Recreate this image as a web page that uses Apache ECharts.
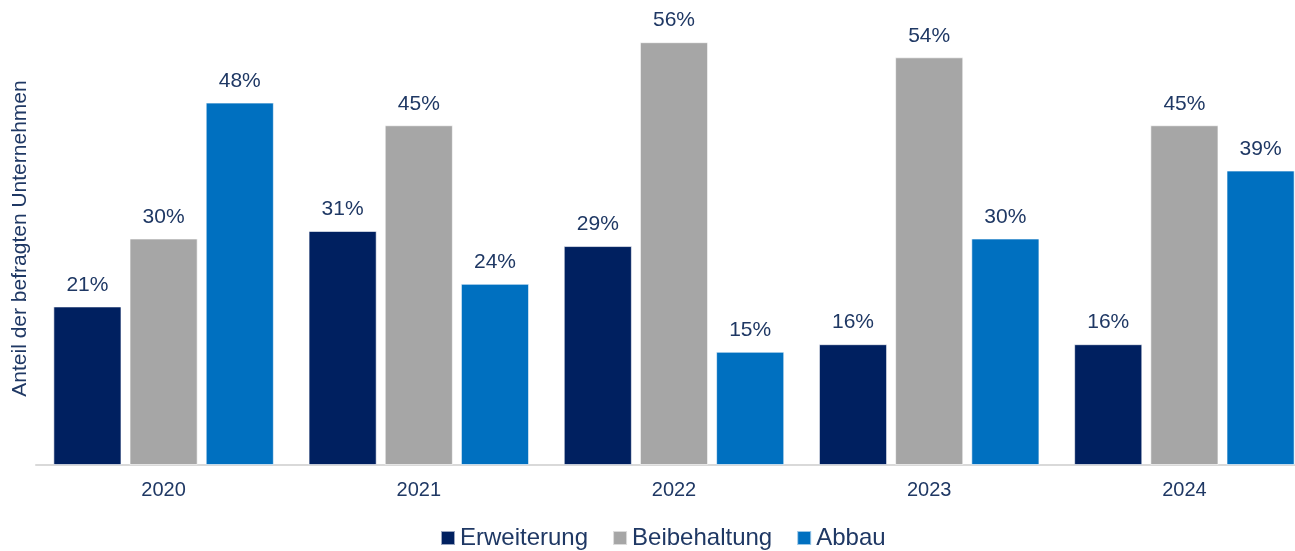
<!DOCTYPE html>
<html>
<head>
<meta charset="utf-8">
<script src="https://cdn.jsdelivr.net/npm/echarts@6/dist/echarts.min.js"></script>
<style>
  html, body { margin: 0; padding: 0; background: #fff; overflow: hidden; }
  body { width: 1295px; height: 551px; }
  #chart { width: 1312px; height: 551px; }
</style>
</head>
<body>
<div id="chart"></div>
<script>
var years = ["2020", "2021", "2022", "2023", "2024"];
var erweiterung = [21, 31, 29, 16, 16];
var beibehaltung = [30, 45, 56, 54, 45];
var abbau = [48, 24, 15, 30, 39];

var textColor = "#1F3864";
var font = "Liberation Sans, Arial, sans-serif";

function makeSeries(name, data, color) {
    return {
        name: name,
        type: "bar",
        data: data,
        barWidth: "26.7%",
        barGap: "11.8%",
        itemStyle: { color: color, borderColor: "rgba(255,255,255,0.6)", borderWidth: 1 },
        label: {
            show: true,
            position: "top",
            distance: 11,
            formatter: "{c}%",
            color: textColor,
            fontSize: 21,
            fontFamily: font
        }
    };
}

// grid runs a bit past the right edge, the last bar is cut like in the original
var chart = echarts.init(document.getElementById("chart"));
var option = {
    animation: false,
    grid: { left: 36, right: 0, top: 12, bottom: 86 },
    legend: {
        bottom: -4,
        left: 435,
        itemWidth: 14,
        itemHeight: 14,
        itemGap: 24,
        icon: "rect",
        textStyle: { color: textColor, fontSize: 24, fontFamily: font },
        data: ["Erweiterung", "Beibehaltung", "Abbau"]
    },
    xAxis: {
        type: "category",
        data: years,
        axisTick: { show: false },
        axisLine: { lineStyle: { color: "#D9D9D9", width: 2 } },
        axisLabel: { color: textColor, fontSize: 20, fontFamily: font, margin: 15 }
    },
    yAxis: {
        type: "value",
        min: 0,
        max: 60,
        name: "Anteil der befragten Unternehmen",
        nameLocation: "middle",
        nameGap: 5,
        nameTextStyle: { color: textColor, fontSize: 21, fontFamily: font },
        axisLine: { show: false },
        axisTick: { show: false },
        axisLabel: { show: false },
        splitLine: { show: false }
    },
    series: [
        makeSeries("Erweiterung", erweiterung, "#002060"),
        makeSeries("Beibehaltung", beibehaltung, "#A6A6A6"),
        makeSeries("Abbau", abbau, "#0070C0")
    ]
};
chart.setOption(option);
</script>
</body>
</html>
